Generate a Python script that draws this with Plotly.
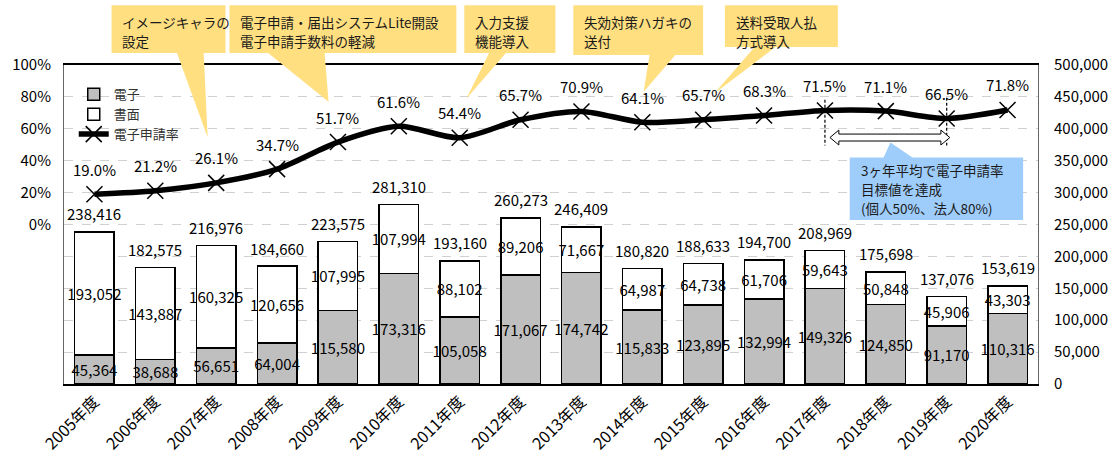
import plotly.graph_objects as go

# 年度別の申請件数（電子・書面）と電子申請率
years = ["2005年度", "2006年度", "2007年度", "2008年度", "2009年度", "2010年度",
         "2011年度", "2012年度", "2013年度", "2014年度", "2015年度", "2016年度",
         "2017年度", "2018年度", "2019年度", "2020年度"]
denshi = [45364, 38688, 56651, 64004, 115580, 173316, 105058, 171067,
          174742, 115833, 123895, 132994, 149326, 124850, 91170, 110316]
shomen = [193052, 143887, 160325, 120656, 107995, 107994, 88102, 89206,
          71667, 64987, 64738, 61706, 59643, 50848, 45906, 43303]
rate = [19.0, 21.2, 26.1, 34.7, 51.7, 61.6, 54.4, 65.7,
        70.9, 64.1, 65.7, 68.3, 71.5, 71.1, 66.5, 71.8]
count_ticks = list(range(0, 500001, 50000))
rate_ticks = [0, 20, 40, 60, 80, 100]

totals = [a + b for a, b in zip(denshi, shomen)]

FONT = "Noto Sans CJK JP"
YELLOW = "#FFDF80"
BLUE = "#9FCDFB"

# plot-area geometry in pixels (used for the callout decorations)
W, H = 1120, 466
L, R, T, B = 59, 78, 65, 80
PW, PH = W - L - R, H - T - B


def px(x):
    return (x - L) / PW


def py(y):
    return (H - B - y) / PH


fig = go.Figure()

fig.add_trace(go.Bar(
    x=years, y=denshi, name="電子",
    marker=dict(color="#BFBFBF", line=dict(color="black", width=1.5)),
    text=[f"{v:,}" for v in denshi], textposition="inside",
    insidetextanchor="middle", constraintext="none", textangle=0,
    textfont=dict(family=FONT, size=15, color="black"),
    yaxis="y",
))
fig.add_trace(go.Bar(
    x=years, y=shomen, name="書面",
    marker=dict(color="white", line=dict(color="black", width=1.5)),
    text=[f"{v:,}" for v in shomen], textposition="inside",
    insidetextanchor="middle", constraintext="none", textangle=0,
    textfont=dict(family=FONT, size=15, color="black"),
    yaxis="y",
))
fig.add_trace(go.Scatter(
    x=years, y=rate, name="電子申請率", mode="lines+markers",
    line=dict(color="black", width=5.5, shape="spline", smoothing=0.8),
    marker=dict(symbol="x-thin", size=16, color="black",
                line=dict(color="black", width=1.5)),
    yaxis="y2",
))

annotations = []
# totals above each stacked bar
for yr, tot in zip(years, totals):
    annotations.append(dict(
        x=yr, y=tot, xref="x", yref="y", text=f"{tot:,}", showarrow=False,
        yanchor="middle", yshift=18, font=dict(family=FONT, size=15, color="black"),
    ))
# rate labels above the line markers
for yr, r in zip(years, rate):
    annotations.append(dict(
        x=yr, y=r, xref="x", yref="y2", text=f"{r:.1f}%", showarrow=False,
        yanchor="middle", yshift=25, font=dict(family=FONT, size=15, color="black"),
    ))

shapes = []


def poly_path(pts):
    return "M " + " L ".join(f"{px(x):.5f},{py(y):.5f}" for x, y in pts) + " Z"


def text_lines(x, y_first, step, lines, size):
    # one annotation per line so the spacing can be set exactly
    for i, line in enumerate(lines):
        annotations.append(dict(
            x=px(x), y=py(y_first + i * step), xref="paper", yref="paper",
            text=line, showarrow=False, xanchor="left", yanchor="middle",
            align="left", font=dict(family=FONT, size=size, color="#1a1a1a"),
        ))


# yellow callouts: (box x0, y0, x1, y1), pointer triangle, text lines
callouts = [
    ((107, 5, 222, 53), [(173, 53), (200, 53), (204, 138)], ["イメージキャラの", "設定"]),
    ((226, 5, 455, 53), [(265, 53), (322, 53), (326, 102)],
     ["電子申請・届出システムLite開設", "電子申請手数料の軽減"]),
    ((463, 5, 555, 53), [(488, 53), (505, 53), (465, 99)], ["入力支援", "機能導入"]),
    ((573, 5, 704, 55), [(650, 55), (676, 55), (644, 92)], ["失効対策ハガキの", "送付"]),
    ((726, 5, 840, 47), [(756, 47), (777, 47), (715, 94)], ["送料受取人払", "方式導入"]),
]

for (x0, y0, x1, y1), tri, lines in callouts:
    shapes.append(dict(type="rect", xref="paper", yref="paper",
                       x0=px(x0), x1=px(x1), y0=py(y1), y1=py(y0),
                       fillcolor=YELLOW, line=dict(width=0), layer="above"))
    shapes.append(dict(type="path", xref="paper", yref="paper",
                       path=poly_path(tri), fillcolor=YELLOW,
                       line=dict(width=0), layer="above"))
    text_lines(x0 + 9, y0 + 17, 19, lines, 13.5)

# 3-year average period marker
for yr, top in (("2017年度", 100), ("2019年度", 98)):
    shapes.append(dict(type="line", xref="x", yref="paper", x0=yr, x1=yr,
                       y0=py(top), y1=py(146), layer="above",
                       line=dict(color="black", width=1.2, dash="3px,2px")))

ax0, ax1, ayc = 832, 953, 138
sh, hh, hl = 3.5, 7.5, 9
arrow = [(ax0, ayc), (ax0 + hl, ayc - hh), (ax0 + hl, ayc - sh), (ax1 - hl, ayc - sh),
         (ax1 - hl, ayc - hh), (ax1, ayc), (ax1 - hl, ayc + hh), (ax1 - hl, ayc + sh),
         (ax0 + hl, ayc + sh), (ax0 + hl, ayc + hh)]
shapes.append(dict(type="path", xref="paper", yref="paper", path=poly_path(arrow),
                   fillcolor="white", line=dict(color="black", width=1), layer="above"))

# blue note
shapes.append(dict(type="rect", xref="paper", yref="paper",
                   x0=px(852), x1=px(1027), y0=py(221), y1=py(158),
                   fillcolor=BLUE, line=dict(width=0), layer="above"))
shapes.append(dict(type="path", xref="paper", yref="paper",
                   path=poly_path([(886, 158.5), (916, 158.5), (893, 143)]),
                   fillcolor=BLUE, line=dict(width=0), layer="above"))
text_lines(861, 171, 19, ["3ヶ年平均で電子申請率", "目標値を達成", "(個人50%、法人80%)"], 13.5)

fig.update_layout(
    width=W, height=H,
    margin=dict(l=L, r=R, t=T, b=B),
    paper_bgcolor="white", plot_bgcolor="white",
    barmode="stack", bargap=0.35,
    font=dict(family=FONT, size=15, color="black"),
    showlegend=True,
    legend=dict(x=0.01, y=0.955, xanchor="left", yanchor="top",
                traceorder="normal", bgcolor="rgba(0,0,0,0)", borderwidth=0,
                font=dict(family=FONT, size=13, color="#333"),
                itemwidth=30),
    xaxis=dict(type="category", range=[-0.5, len(years) - 0.5], tickangle=-45,
               showline=True, linecolor="black",
               linewidth=2, mirror=True, ticks="", showgrid=False,
               tickfont=dict(family=FONT, size=16, color="black")),
    yaxis=dict(side="right", range=[0, 500000], tickvals=count_ticks,
               tickformat=",", showgrid=True, gridcolor="#D0D0D0",
               griddash="dash", gridwidth=1, showline=True, linecolor="#666",
               linewidth=1, mirror=True, ticks="", zeroline=False,
               ticklabelstandoff=12,
               tickfont=dict(family=FONT, size=15, color="black")),
    yaxis2=dict(overlaying="y", side="left", range=[-100, 100],
                tickvals=rate_ticks, ticktext=[f"{v}%" for v in rate_ticks],
                showgrid=False, zeroline=False, showline=False, ticks="",
                ticklabelstandoff=12,
                tickfont=dict(family=FONT, size=15, color="black")),
    annotations=annotations,
    shapes=shapes,
)

fig.write_html("out.html")
